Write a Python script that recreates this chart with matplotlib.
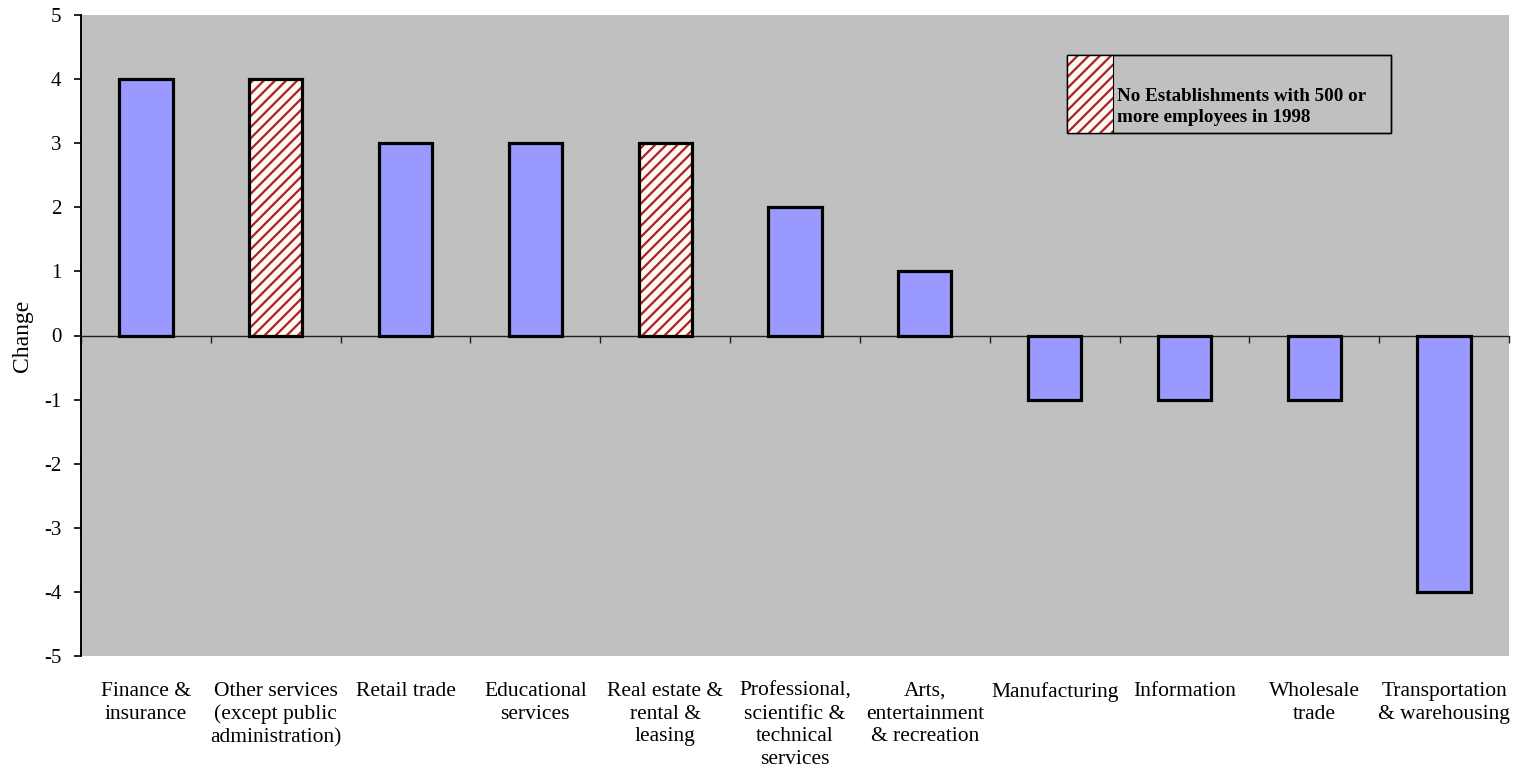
import matplotlib
matplotlib.use("Agg")
import matplotlib.pyplot as plt
from matplotlib.patches import Rectangle
from matplotlib.transforms import blended_transform_factory
import numpy as np

categories = [
    "Finance &\ninsurance",
    "Other services\n(except public\nadministration)",
    "Retail trade",
    "Educational\nservices",
    "Real estate &\nrental &\nleasing",
    "Professional,\nscientific &\ntechnical\nservices",
    "Arts,\nentertainment\n& recreation",
    "Manufacturing",
    "Information",
    "Wholesale\ntrade",
    "Transportation\n& warehousing",
]
change = [4, 4, 3, 3, 3, 2, 1, -1, -1, -1, -4]
# True where the industry had no establishments with 500+ employees in 1998
no_large_1998 = [False, True, False, False, True, False, False, False, False, False, False]
legend_text = "No Establishments with 500 or\nmore employees in 1998"

plt.rcParams["font.family"] = ["Liberation Serif", "DejaVu Serif"]
plt.rcParams["hatch.linewidth"] = 1.6

BG = "#C0C0C0"
BAR = "#9999FF"
HATCH_RED = "#A8202A"

fig = plt.figure(figsize=(15.2, 7.74), dpi=100)
ax = fig.add_axes([81 / 1520, 1 - 656 / 774, (1509 - 81) / 1520, (656 - 15) / 774])
ax.set_facecolor(BG)

x = np.arange(len(categories))
width = 0.41

plain_x = [xi for xi, h in zip(x, no_large_1998) if not h]
plain_v = [v for v, h in zip(change, no_large_1998) if not h]
hatch_x = [xi for xi, h in zip(x, no_large_1998) if h]
hatch_v = [v for v, h in zip(change, no_large_1998) if h]

ax.bar(plain_x, plain_v, width, color=BAR, edgecolor="black", linewidth=2.3, zorder=3)
ax.bar(hatch_x, hatch_v, width, color="#FFF8F0", edgecolor=HATCH_RED, hatch="///",
       linewidth=0, zorder=3)
ax.bar(hatch_x, hatch_v, width, fill=False, edgecolor="black", linewidth=2.3, zorder=4)

ax.set_xlim(-0.5, len(categories) - 0.5)
ax.set_ylim(-5, 5)
ax.set_yticks(range(-5, 6))
ax.set_yticklabels([str(v) for v in range(-5, 6)], fontsize=15)
ax.tick_params(axis="y", direction="out", length=5, width=1.2, pad=9)

# category axis runs along zero, with ticks between categories
ax.spines["bottom"].set_position(("data", 0))
ax.spines["bottom"].set_linewidth(1.0)
ax.spines["bottom"].set_color("#202020")
ax.set_xticks(np.arange(-0.5, len(categories), 1.0))
ax.set_xticklabels([])
ax.tick_params(axis="x", direction="out", length=5, width=1.0, color="#202020")
ax.spines["left"].set_linewidth(1.4)
ax.spines["top"].set_visible(False)
ax.spines["right"].set_visible(False)

trans = blended_transform_factory(ax.transData, ax.transAxes)
for xi, lab in zip(x, categories):
    ax.text(xi, -0.040, lab, transform=trans, ha="center", va="top",
            multialignment="center", fontsize=15.5, linespacing=1.28)

ax.set_ylabel("Change", fontsize=17, labelpad=8)

# legend box
def fig_rect(x0, y0, x1, y1, **kw):
    r = Rectangle((x0 / 1520, 1 - y1 / 774), (x1 - x0) / 1520, (y1 - y0) / 774,
                  transform=fig.transFigure, **kw)
    fig.add_artist(r)
    return r

fig_rect(1067, 55, 1391, 133, facecolor=BG, edgecolor="black", linewidth=1.0, zorder=5)
fig_rect(1067, 55, 1113, 133, facecolor="#FFF8F0", edgecolor=HATCH_RED, hatch="///",
         linewidth=0, zorder=6)
fig_rect(1067, 55, 1391, 133, fill=False, edgecolor="black", linewidth=1.0, zorder=7)
fig_rect(1113, 55, 1113, 133, fill=False, edgecolor="black", linewidth=0.8, zorder=7)
fig.text(1117 / 1520, 1 - 107 / 774, legend_text, ha="left", va="center",
         fontsize=13.7, fontweight="bold", linespacing=1.35, zorder=8)

fig.savefig("out.png", dpi=100)
